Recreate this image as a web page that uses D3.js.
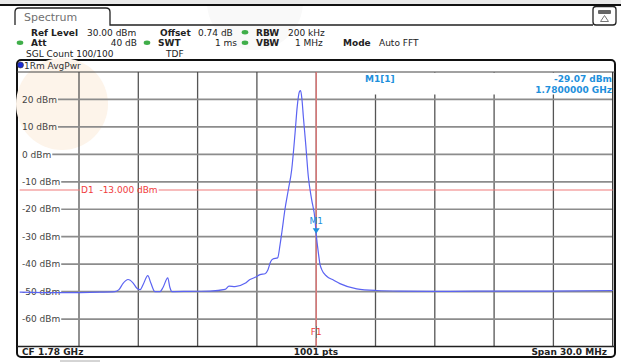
<!DOCTYPE html>
<html><head><meta charset="utf-8">
<script src="https://cdn.jsdelivr.net/npm/d3@7"></script>
<style>
html,body{margin:0;padding:0;background:#fff;}
svg{display:block;font-family:"DejaVu Sans",sans-serif;}
text{white-space:pre;}
</style></head>
<body>
<svg id="c" width="621" height="363"></svg>
<script>
// ---- data ----
const freqMHz = [1765.00,1767.04,1769.06,1769.82,1770.02,1770.23,1770.48,1770.73,1770.93,1771.09,1771.24,1771.48,1771.64,1771.84,1772.10,1772.25,1772.49,1772.60,1772.70,1773.62,1774.63,1775.39,1775.59,1775.89,1776.40,1776.65,1776.91,1777.16,1777.41,1777.56,1777.70,1777.81,1778.05,1778.17,1778.27,1778.42,1778.59,1778.76,1778.93,1779.04,1779.15,1779.21,1779.28,1779.35,1779.48,1779.60,1779.77,1779.94,1780.00,1780.11,1780.19,1780.28,1780.53,1780.87,1781.20,1782.05,1783.06,1784.24,1786.77,1789.30,1791.83,1795.00];
const powerDbm = [-50.2,-50.4,-50.2,-50.0,-49.3,-47.0,-45.6,-46.8,-48.8,-49.3,-47.5,-44.2,-47.0,-50.0,-50.0,-48.5,-45.0,-48.5,-50.0,-49.9,-49.8,-49.2,-48.0,-48.2,-47.0,-45.6,-44.8,-43.8,-43.5,-42.0,-39.0,-38.1,-37.7,-33.0,-28.0,-20.0,-12.9,-5.6,7.7,17.4,22.8,23.2,20.0,13.7,2.8,-8.0,-16.5,-23.8,-29.07,-35.9,-40.0,-42.0,-44.4,-45.8,-47.1,-49.0,-49.6,-49.8,-49.9,-49.8,-49.8,-49.6];
const yTickValues = [20,10,0,-10,-20,-30,-40,-50,-60];
const yTickLabels = ["20 dBm","10 dBm","0 dBm","-10 dBm","-20 dBm","-30 dBm","-40 dBm","-50 dBm","-60 dBm"];
const xGridMHz = [1768,1771,1774,1777,1780,1783,1786,1789,1792];
const markerFreq = 1780.0, markerLevel = -29.07;
const displayLine = -13.0;
const headerRow1 = [["Ref Level","b",31],["30.00 dBm","n",87],["Offset","b",160],["0.74 dB","n",198],["RBW","b",256],["200 kHz","n",288]];
const headerRow2 = [["Att","b",31],["40 dB","r",137],["SWT","b",158],["1 ms","r",237],["VBW","b",256],["1 MHz","n",295],["Mode","b",343],["Auto FFT","n",379]];
const headerRow3 = [["SGL Count 100/100","n",26],["TDF","n",166]];

// ---- drawing ----
const svg = d3.select("#c");
const X0 = 19.7, X1 = 612.7, Y0 = 72, Y1 = 346.5;
const x = d3.scaleLinear().domain([1765,1795]).range([X0,X1]);
const y = d3.scaleLinear().domain([-70,30]).range([Y1,Y0]);
const blue = "#1e90dc", red = "#f03c3c", redLine = "#f07a7a";

svg.append("rect").attr("width",621).attr("height",363).attr("fill","#fff");
svg.append("circle").attr("cx",255).attr("cy",2).attr("r",48).attr("fill","#f9f9f9");
svg.append("rect").attr("x",0).attr("y",0).attr("width",621).attr("height",4).attr("fill","#e9e9e9");
svg.append("rect").attr("x",0).attr("y",4).attr("width",621).attr("height",2).attr("fill","#111");

// tab
svg.append("path").attr("d","M15,25 L15,12 Q15,8 19,8 L106,8 Q110,8 110,12 L110,25 L593,25")
  .attr("fill","none").attr("stroke","#222").attr("stroke-width",1.3);
svg.append("text").attr("x",24).attr("y",20.5).attr("font-size",11).attr("fill","#707070").text("Spectrum");
// icon
svg.append("rect").attr("x",593).attr("y",6.5).attr("width",23).attr("height",18.5).attr("rx",3)
  .attr("fill","#fff").attr("stroke","#222").attr("stroke-width",1.3);
svg.append("rect").attr("x",598).attr("y",10).attr("width",13).attr("height",4).attr("rx",1).attr("fill","#666");
svg.append("path").attr("d","M604.5,15.5 L600.5,21.5 L608.5,21.5 Z").attr("fill","none").attr("stroke","#777").attr("stroke-width",1);

function row(items, by){
  items.forEach(([t,k,px])=>{
    const e = svg.append("text").attr("y",by).attr("font-size",9).attr("fill","#222")
      .attr("font-weight",k==="b"?"bold":"normal").text(t);
    if(k==="r") e.attr("x",px).attr("text-anchor","end"); else e.attr("x",px);
  });
}
row(headerRow1,35.5); row(headerRow2,46); row(headerRow3,56.5);
[[245,32.3],[20,42.7],[147,42.7],[245,42.7]].forEach(([cx,cy])=>{
  svg.append("ellipse").attr("cx",cx).attr("cy",cy).attr("rx",3.3).attr("ry",2.2).attr("fill","#3fae49");
});

// frame
svg.append("rect").attr("x",17).attr("y",60).attr("width",598).attr("height",297).attr("rx",4)
  .attr("fill","#fff").attr("stroke","#111").attr("stroke-width",2);
svg.append("line").attr("x1",60).attr("x2",100).attr("y1",361).attr("y2",361).attr("stroke","#aaa");
svg.append("circle").attr("cx",62).attr("cy",104).attr("r",46).attr("fill","#fdf4ea");
svg.append("circle").attr("cx",20.5).attr("cy",65).attr("r",3).attr("fill","#1a2ad8").attr("stroke","#333").attr("stroke-width",0.6);
svg.append("text").attr("x",24).attr("y",68.5).attr("font-size",9).attr("fill","#333").text("1Rm AvgPwr");

// vertical grid
svg.selectAll(".vg").data(xGridMHz).enter().append("line")
  .attr("x1",d=>x(d)).attr("x2",d=>x(d)).attr("y1",Y0).attr("y2",Y1)
  .attr("stroke","#555").attr("stroke-width",1.3);
// readout box over grid
svg.append("rect").attr("x",322).attr("y",Y0+0.5).attr("width",X1-322).attr("height",22).attr("fill","#fff");

// horizontal grid with labels
yTickValues.forEach((v,i)=>{
  const t = svg.append("text").attr("x",22).attr("y",y(v)).attr("dy","0.35em")
    .attr("font-size",9).attr("fill","#444").text(yTickLabels[i]);
  const w = t.node().getComputedTextLength();
  svg.append("line").attr("x1",22+w+1).attr("x2",X1).attr("y1",y(v)).attr("y2",y(v))
    .attr("stroke","#8c8c8c").attr("stroke-width",1.7);
});

// plot borders
svg.append("line").attr("x1",17).attr("x2",615).attr("y1",Y0).attr("y2",Y0).attr("stroke","#444").attr("stroke-width",1.2);
svg.append("line").attr("x1",17).attr("x2",615).attr("y1",Y1).attr("y2",Y1).attr("stroke","#222").attr("stroke-width",1.4);
svg.append("line").attr("x1",X1).attr("x2",X1).attr("y1",Y0).attr("y2",Y1).attr("stroke","#333").attr("stroke-width",1.3);

// display line D1
const dy = y(displayLine);
const dText = svg.append("text").attr("x",81).attr("y",dy).attr("dy","0.35em").attr("font-size",9).attr("fill",red).text("D1\u00a0\u00a0-13.000 dBm");
const dw = dText.node().getComputedTextLength();
svg.append("line").attr("x1",X0).attr("x2",80).attr("y1",dy).attr("y2",dy).attr("stroke",redLine).attr("stroke-width",1.1);
svg.append("line").attr("x1",81+dw+1).attr("x2",X1).attr("y1",dy).attr("y2",dy).attr("stroke",redLine).attr("stroke-width",1.1);

// F1 line
const fx = x(markerFreq);
svg.append("line").attr("x1",fx).attr("x2",fx).attr("y1",Y0).attr("y2",326).attr("stroke",redLine).attr("stroke-width",1.2);
svg.append("line").attr("x1",fx).attr("x2",fx).attr("y1",338).attr("y2",Y1).attr("stroke",redLine).attr("stroke-width",1.2);
svg.append("text").attr("x",fx).attr("y",332).attr("dy","0.35em").attr("text-anchor","middle").attr("font-size",9).attr("fill",red).text("F1");

// trace
const pts = freqMHz.map((f,i)=>[f,powerDbm[i]]);
svg.append("path").datum(pts)
  .attr("d",d3.line().x(d=>x(d[0])).y(d=>y(d[1])).curve(d3.curveMonotoneX))
  .attr("fill","none").attr("stroke","#5b63f2").attr("stroke-width",1.2);

// marker
const my = y(markerLevel);
svg.append("path").attr("d",`M${fx-3.5},${my-6} L${fx+3.5},${my-6} L${fx},${my-0.5} Z`).attr("fill",blue);
svg.append("text").attr("x",fx).attr("y",my-10).attr("text-anchor","middle").attr("font-size",9).attr("fill",blue).text("M1");

// readout
svg.append("text").attr("x",365).attr("y",82).attr("font-size",9).attr("font-weight","bold").attr("fill",blue).text("M1[1]");
svg.append("text").attr("x",612).attr("y",82).attr("text-anchor","end").attr("font-size",9).attr("font-weight","bold").attr("fill",blue).text("-29.07 dBm");
svg.append("text").attr("x",612).attr("y",93).attr("text-anchor","end").attr("font-size",9).attr("font-weight","bold").attr("fill",blue).text("1.7800000 GHz");

// footer
svg.append("text").attr("x",22).attr("y",355).attr("font-size",9).attr("font-weight","bold").attr("fill","#222").text("CF 1.78 GHz");
svg.append("text").attr("x",316).attr("y",355).attr("text-anchor","middle").attr("font-size",9).attr("font-weight","bold").attr("fill","#222").text("1001 pts");
svg.append("text").attr("x",607).attr("y",355).attr("text-anchor","end").attr("font-size",9).attr("font-weight","bold").attr("fill","#222").text("Span 30.0 MHz");
</script>
</body></html>
